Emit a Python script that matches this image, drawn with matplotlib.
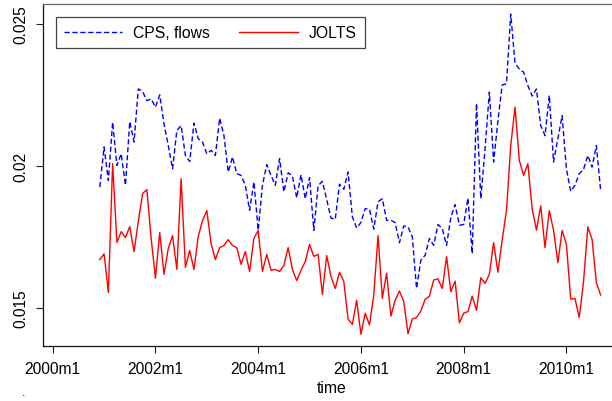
import matplotlib
matplotlib.use("Agg")
import matplotlib.pyplot as plt
import numpy as np

plt.rcParams['font.family'] = ['Liberation Sans', 'DejaVu Sans']

# monthly series, 2000m12 .. 2010m9 (month index counted from 2000m1 = 0)
start_index = 11
cps_flows = [
    0.01925, 0.02066, 0.01948, 0.02153, 0.02001, 0.02042, 0.01931, 0.02155, 0.02083, 0.02270,
    0.02261, 0.02229, 0.02235, 0.02206, 0.02249, 0.02147, 0.02071, 0.01989, 0.02124, 0.02141,
    0.02036, 0.02015, 0.02150, 0.02095, 0.02083, 0.02042, 0.02054, 0.02036, 0.02167, 0.02106,
    0.01978, 0.02031, 0.01972, 0.01966, 0.01931, 0.01843, 0.01943, 0.01773, 0.01931, 0.02004,
    0.01966, 0.01931, 0.02025, 0.01908, 0.01975, 0.01964, 0.01887, 0.01968, 0.01884, 0.01958,
    0.01773, 0.01930, 0.01945, 0.01881, 0.01816, 0.01811, 0.01935, 0.01917, 0.01978, 0.01820,
    0.01781, 0.01800, 0.01849, 0.01847, 0.01777, 0.01873, 0.01884, 0.01808, 0.01808, 0.01800,
    0.01729, 0.01788, 0.01785, 0.01750, 0.01568, 0.01668, 0.01685, 0.01744, 0.01720, 0.01793,
    0.01779, 0.01720, 0.01818, 0.01863, 0.01791, 0.01793, 0.01886, 0.01691, 0.02219, 0.01884,
    0.02060, 0.02259, 0.02013, 0.02158, 0.02284, 0.02288, 0.02533, 0.02361, 0.02340, 0.02329,
    0.02282, 0.02245, 0.02270, 0.02141, 0.02106, 0.02247, 0.02013, 0.02095, 0.02176, 0.01989,
    0.01910, 0.01931, 0.01972, 0.01987, 0.02036, 0.01995, 0.02071, 0.01913,
]
jolts = [
    0.01670, 0.01690, 0.01554, 0.02007, 0.01730, 0.01768, 0.01747, 0.01786, 0.01698, 0.01804,
    0.01902, 0.01916, 0.01744, 0.01604, 0.01765, 0.01618, 0.01709, 0.01754, 0.01635, 0.01954,
    0.01642, 0.01702, 0.01635, 0.01751, 0.01807, 0.01842, 0.01726, 0.01670, 0.01712, 0.01719,
    0.01740, 0.01719, 0.01712, 0.01653, 0.01698, 0.01628, 0.01744, 0.01772, 0.01628, 0.01688,
    0.01632, 0.01635, 0.01628, 0.01649, 0.01712, 0.01635, 0.01596, 0.01632, 0.01663, 0.01723,
    0.01681, 0.01688, 0.01547, 0.01684, 0.01611, 0.01568, 0.01625, 0.01593, 0.01460, 0.01442,
    0.01527, 0.01407, 0.01481, 0.01440, 0.01545, 0.01754, 0.01533, 0.01622, 0.01471, 0.01527,
    0.01559, 0.01523, 0.01409, 0.01461, 0.01466, 0.01489, 0.01530, 0.01541, 0.01598, 0.01602,
    0.01568, 0.01680, 0.01557, 0.01594, 0.01447, 0.01481, 0.01487, 0.01541, 0.01491, 0.01606,
    0.01586, 0.01618, 0.01729, 0.01625, 0.01738, 0.01843, 0.02071, 0.02206, 0.02019, 0.01966,
    0.02007, 0.01849, 0.01773, 0.01859, 0.01712, 0.01842, 0.01773, 0.01659, 0.01772, 0.01724,
    0.01531, 0.01533, 0.01466, 0.01592, 0.01785, 0.01741, 0.01588, 0.01545,
]
xtick_pos = [0, 24, 48, 72, 96, 120]
xtick_labels = ["2000m1", "2002m1", "2004m1", "2006m1", "2008m1", "2010m1"]
ytick_pos = [0.015, 0.02, 0.025]
ytick_labels = ["0.015", "0.02", "0.025"]

W, H = 612, 402
fig = plt.figure(figsize=(W / 100, H / 100), dpi=100)

ax_l, ax_r, ax_t, ax_b = 42.7, 620.0, 4.5, 346.7
ax = fig.add_axes([ax_l / W, 1 - ax_b / H, (ax_r - ax_l) / W, (ax_b - ax_t) / H])

x = np.arange(start_index, start_index + len(cps_flows))
ax.plot(x, cps_flows, color='#0000ff', lw=1.0, dashes=(3.7, 2.0), label='CPS, flows')
ax.plot(x, jolts, color='#ff0000', lw=1.0, label='JOLTS')

px_per_month = (566.4 - 52.7) / 120.0
ax.set_xlim((ax_l - 52.7) / px_per_month, (ax_r - 52.7) / px_per_month)
px_per_unit = (308.3 - 24.0) / 0.010
ax.set_ylim(0.02 - (ax_b - 166.7) / px_per_unit, 0.02 + (166.7 - ax_t) / px_per_unit)

ax.set_xticks(xtick_pos)
ax.set_xticklabels(xtick_labels, fontsize=11.2)
ax.set_yticks(ytick_pos)
ax.set_yticklabels(ytick_labels, fontsize=11.2, rotation=90, va='center')
ax.tick_params(axis='both', direction='out', length=5, width=0.8, color='#222222')
ax.tick_params(axis='y', pad=5.5)
ax.tick_params(axis='x', pad=6)
ax.set_xlabel('time', fontsize=11.3, labelpad=3)

for s in ['left', 'bottom']:
    ax.spines[s].set_color('#111111')
    ax.spines[s].set_linewidth(0.9)
ax.spines['top'].set_color('#666666')
ax.spines['top'].set_linewidth(0.9)
ax.spines['right'].set_visible(False)

leg = ax.legend(loc='upper left', bbox_to_anchor=(55.7 / W, 1 - 18.3 / H),
                bbox_transform=fig.transFigure, borderaxespad=0, ncol=2,
                fontsize=11.3, handlelength=3.75, handletextpad=0.7,
                columnspacing=1.85, borderpad=0.5, fancybox=False,
                framealpha=1, edgecolor='#444444')
leg.get_frame().set_linewidth(0.9)

fig.text(24 / W, 1 - 396 / H, '.', fontsize=9, ha='center', va='baseline')

fig.savefig('out.png', dpi=100)
